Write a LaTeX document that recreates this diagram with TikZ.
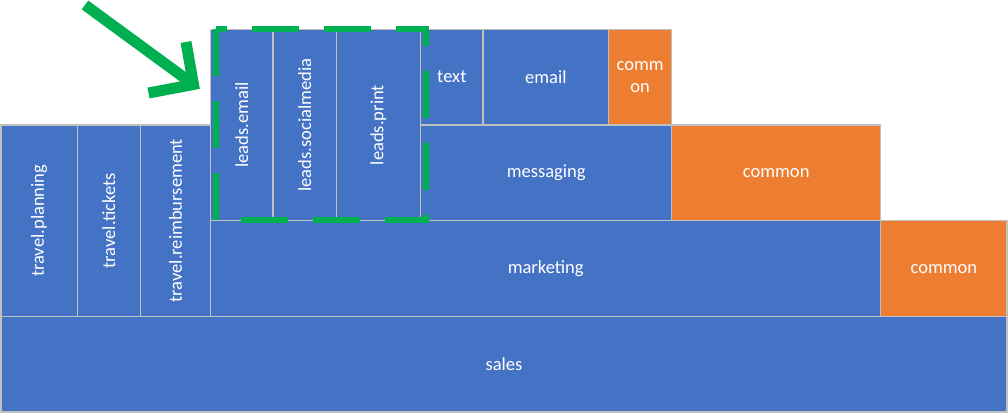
\documentclass[tikz,border=0pt]{standalone}
\usepackage{fontspec}
\usepackage{graphicx}
\setmainfont{Carlito}
\definecolor{boxblue}{HTML}{4472C4}
\definecolor{boxorange}{HTML}{ED7D31}
\definecolor{hlgreen}{HTML}{00B050}
\definecolor{edgegrey}{HTML}{C0C0C0}
\newcommand\mycell[7]{%
  \node[#2, minimum width={(#5-#3)*0.75pt}, minimum height={(#6-#4)*0.75pt}] (#1) at ({(#3+#5)/2},{(#4+#6)/2}) {#7};}
\newcommand\vtext[1]{\rotatebox{90}{#1}}
\begin{document}
\begin{tikzpicture}[x=0.75pt,y=-0.75pt,
  cell/.style={draw=edgegrey, line width=0.9pt, text=white, inner sep=0pt, outer sep=0pt,
    font=\fontsize{13.9}{16.5}\selectfont, align=center},
  bluecell/.style={cell, fill=boxblue},
  orangecell/.style={cell, fill=boxorange},
  highlight/.style={draw=hlgreen, line width=4.5pt, dash pattern=on 35.25pt off 18.75pt, line join=miter},
  pointer/.style={draw=hlgreen, line width=8.25pt, line join=miter}
]
\useasboundingbox (0,0) rectangle (1008,413);
% bottom row
\mycell{sales}{bluecell}{1}{316.5}{1007}{412}{sales}
% travel
\mycell{tplan}{bluecell}{1}{125}{77.3}{316.5}{\vtext{travel.planning}}
\mycell{ttick}{bluecell}{77.3}{125}{140.3}{316.5}{\vtext{travel.tickets}}
\mycell{treim}{bluecell}{140.3}{125}{210.7}{316.5}{\vtext{travel.reimbursement}}
% marketing row
\mycell{marketing}{bluecell}{210.7}{220.7}{880.7}{316.5}{marketing}
\mycell{common3}{orangecell}{880.7}{220.7}{1007}{316.5}{common}
% leads
\mycell{lemail}{bluecell}{210.7}{29.3}{273}{220.7}{\vtext{leads.email}}
\mycell{lsocial}{bluecell}{273}{29.3}{336.3}{220.7}{\vtext{leads.socialmedia}}
\mycell{lprint}{bluecell}{336.3}{29.3}{420.7}{220.7}{\vtext{leads.print}}
% messaging row
\mycell{messaging}{bluecell}{420.7}{125}{671.7}{220.7}{messaging}
\mycell{common2}{orangecell}{671.7}{125}{880.7}{220.7}{common}
% top row
\mycell{text}{bluecell}{420.7}{29.3}{483}{125}{text}
\mycell{email}{bluecell}{483}{29.3}{608.7}{125}{email}
\mycell{common1}{orangecell}{608.7}{29.3}{671.7}{125}{comm\\on}
% highlight around leads
\coordinate (hlNW) at (216,29);
\coordinate (hlSW) at (216,220.5);
\coordinate (hlSE) at (426,220.5);
\coordinate (hlNE) at (426,29);
\draw[highlight] (hlNW) -- (hlSW) -- (hlSE) -- (hlNE) -- cycle;
% pointer arrow
\coordinate (ptail) at (85,5);
\coordinate (ptip) at (193.5,84.5);
\coordinate (parmA) at (186,42);
\coordinate (parmB) at (148.5,93);
\draw[pointer] (ptail) -- (ptip);
\draw[pointer] (parmA) -- (ptip) -- (parmB);
\end{tikzpicture}
\end{document}
